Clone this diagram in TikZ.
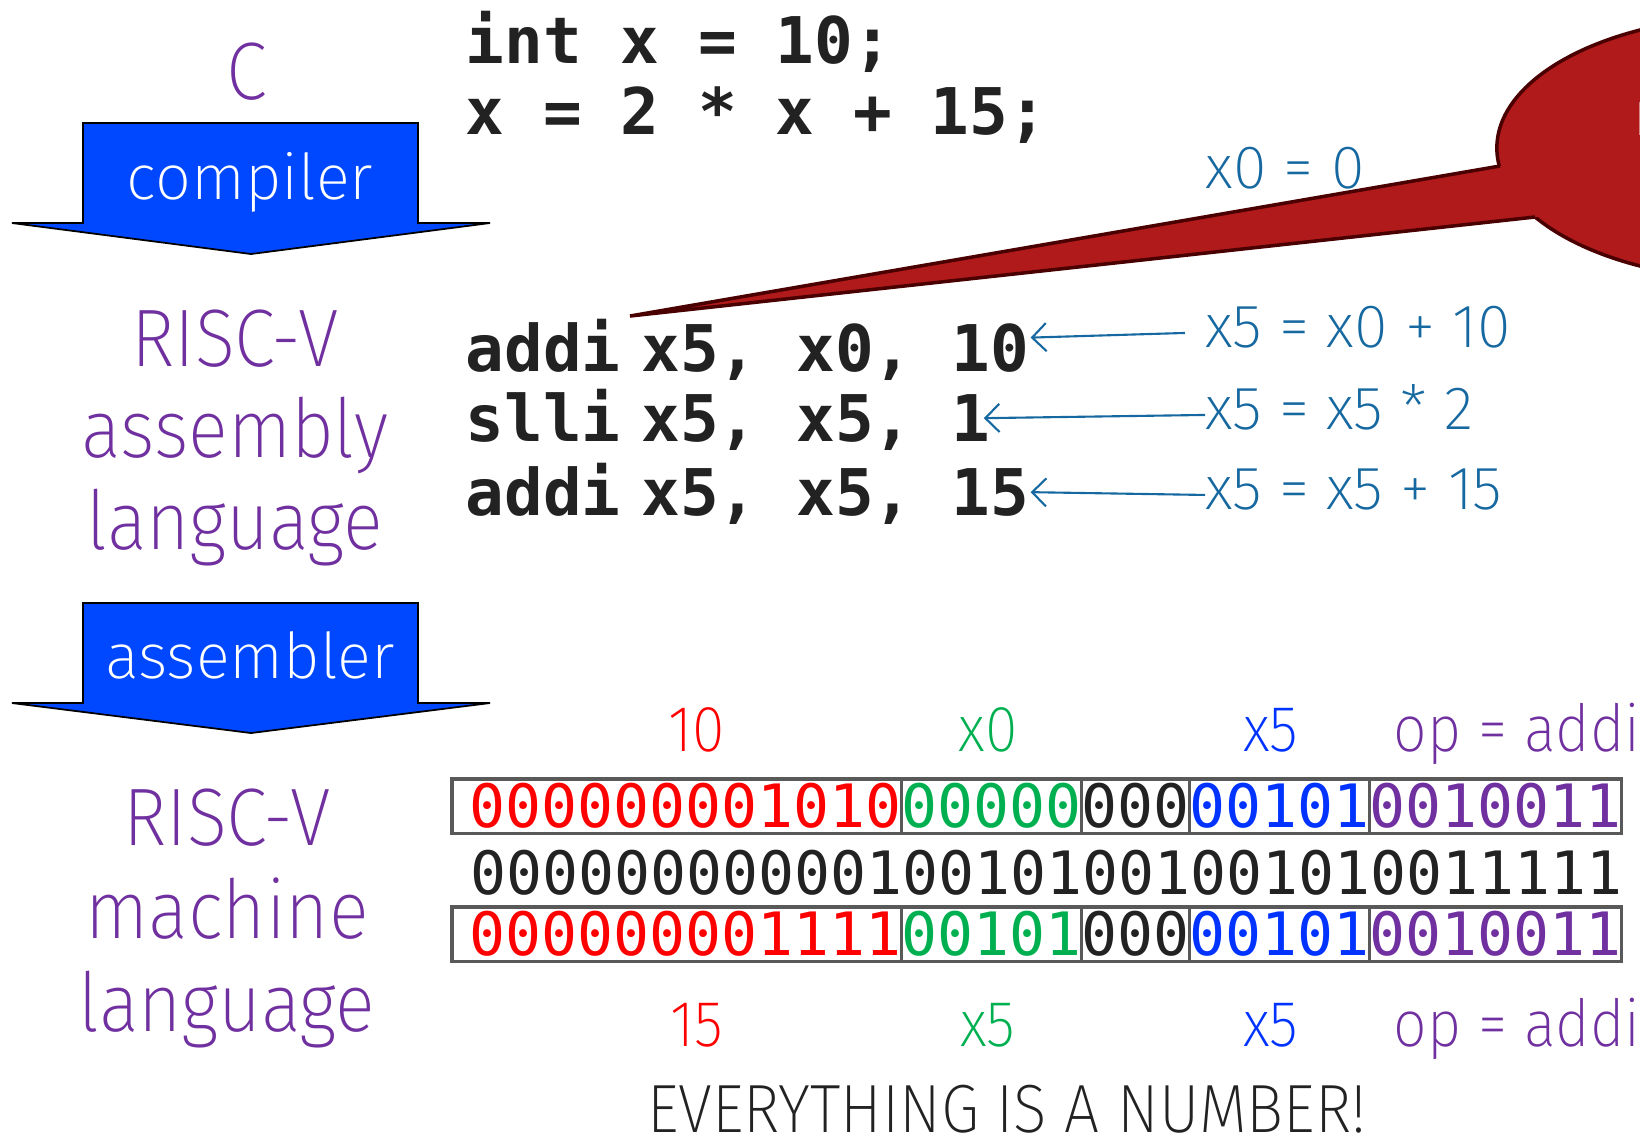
\documentclass[tikz,border=0pt]{standalone}
\usepackage{fontspec}
\newfontfamily\thinsans{Fira Sans ExtraLight}[FakeStretch=0.91]
\newfontfamily\notesans{Fira Sans ExtraLight}
\newfontfamily\codefont{DejaVu Sans Mono}
\usetikzlibrary{arrows.meta,positioning}

\definecolor{langPurple}{RGB}{112,48,160}
\definecolor{arrowBlue}{RGB}{0,72,255}
\definecolor{noteBlue}{RGB}{22,104,160}
\definecolor{codeGray}{RGB}{34,34,34}
\definecolor{boxGray}{RGB}{89,89,89}
\definecolor{bitRed}{RGB}{255,0,0}
\definecolor{bitGreen}{RGB}{0,176,80}
\definecolor{bitBlue}{RGB}{0,51,255}
\definecolor{bubbleRed}{RGB}{176,26,26}
\definecolor{bubbleEdge}{RGB}{74,0,0}

\begin{document}
\begin{tikzpicture}[
      x=0.01cm, y=-0.01cm,
      lang/.style={font=\thinsans\fontsize{23.2pt}{27pt}\selectfont, text=langPurple, inner sep=0},
      stage/.style={font=\notesans\fontsize{18pt}{22pt}\selectfont, text=white, inner sep=0},
      code/.style={font=\codefont\bfseries\fontsize{18.3pt}{22pt}\selectfont, text=codeGray,
        inner sep=0, text height=13pt, text depth=0pt},
      note/.style={font=\notesans\fontsize{17.4pt}{21pt}\selectfont, text=noteBlue,
        inner sep=0, text height=8pt, text depth=0pt},
      ptr/.style={draw=noteBlue, line width=0.6pt, -{Straight Barb[length=4pt,width=8pt]}},
      bits/.style={font=\codefont\fontsize{17pt}{20pt}\selectfont, inner sep=0,
        text height=12.4pt, text depth=0pt},
      field/.style={bits, draw=boxGray, line width=0.9pt, outer sep=0pt, minimum height=15.4pt},
      tag/.style={font=\thinsans\fontsize{18.5pt}{22pt}\selectfont, inner sep=0},
      blockarrow/.style={fill=arrowBlue, draw=black, line width=0.5pt},
      bubble/.style={fill=bubbleRed},
      bubbleline/.style={draw=bubbleEdge, line width=1pt}
    ]
      \useasboundingbox (0,0) rectangle (1640,1138);
      \clip (0,0) rectangle (1640,1138);

      % speech bubble
      \coordinate (tip) at (630,316);
      \filldraw[bubble, bubbleline] (1757,148) ellipse [x radius=2.6cm, y radius=1.32cm];
      \fill[bubble] (tip) -- (1500,166) -- (1620,170) -- (1620,215) -- (1535,217) -- cycle;
      \draw[bubbleline] (1500,166) -- (tip) -- (1535,217);
      \node[font=\notesans\fontsize{13.7pt}{16pt}\selectfont, text=white, inner sep=0,
        anchor=base west] (said) at (1634,135) {H};

      % levels
      \node[lang, anchor=base] (cLang) at (247,99) {C};
      \node[lang, anchor=base] (asmLang1) at (235,366) {RISC-V};
      \node[lang, anchor=base] (asmLang2) at (235,457) {assembly};
      \node[lang, anchor=base] (asmLang3) at (235,549) {language};
      \node[lang, anchor=base] (binLang1) at (227,845) {RISC-V};
      \node[lang, anchor=base] (binLang2) at (227,938) {machine};
      \node[lang, anchor=base] (binLang3) at (227,1031) {language};

      % translators
      \draw[blockarrow] (83,123) -- (418,123) -- (418,223) -- (490,223) -- (251,254)
        -- (12,223) -- (83,223) -- cycle;
      \node[stage, anchor=base] (compiler) at (250,199) {compiler};
      \draw[blockarrow] (83,603) -- (418,603) -- (418,703) -- (490,703) -- (251,733)
        -- (12,703) -- (83,703) -- cycle;
      \node[stage, anchor=base] (assembler) at (250,678) {assembler};

      % C code
      \node[code, anchor=base west] (cLine1) at (465,63) {int x = 10;};
      \node[code, anchor=base west] (cLine2) at (465,134) {x = 2 * x + 15;};

      % assembly
      \node[code, anchor=base west] (asm1) at (465,371) {addi\hspace{5.9pt}x5, x0, 10};
      \node[code, anchor=base west] (asm2) at (465,441) {slli\hspace{5.9pt}x5, x5, 1};
      \node[code, anchor=base west] (asm3) at (465,515) {addi\hspace{5.9pt}x5, x5, 15};

      \node[note, anchor=base west] (zero) at (1205,188) {x0 = 0};
      \node[note, anchor=base west] (n1) at (1205,347) {x5 = x0 + 10};
      \node[note, anchor=base west] (n2) at (1205,429) {x5 = x5 * 2};
      \node[note, anchor=base west] (n3) at (1205,509) {x5 = x5 + 15};

      \draw[ptr] ([xshift=-5.7pt]n1.west) -- ([xshift=0.3pt,yshift=3pt]asm1.east);
      \draw[ptr] (n2.west) -- ([xshift=-2pt]asm2.east);
      \draw[ptr] (n3.west) -- ([xshift=0.3pt]asm3.east);

      % machine code
      \node[field, anchor=west, text=bitRed] (imm1) at (452,806) {\hspace{5.1pt}000000001010};
      \node[field, right=0pt of imm1, text=bitGreen] (rs1) {00000};
      \node[field, right=0pt of rs1, text=codeGray] (fn1) {000};
      \node[field, right=0pt of fn1, text=bitBlue] (rd1) {00101};
      \node[field, right=0pt of rd1, text=langPurple] (op1) {0010011};

      \node[bits, anchor=base west, text=codeGray] (word2) at (470,894)
        {00000000000100101001001010011111};

      \node[field, anchor=west, text=bitRed] (imm3) at (452,934) {\hspace{5.1pt}000000001111};
      \node[field, right=0pt of imm3, text=bitGreen] (rs3) {00101};
      \node[field, right=0pt of rs3, text=codeGray] (fn3) {000};
      \node[field, right=0pt of fn3, text=bitBlue] (rd3) {00101};
      \node[field, right=0pt of rd3, text=langPurple] (op3) {0010011};

      \node[tag, anchor=base, text=bitRed] (immTag1) at (697,751) {10};
      \node[tag, anchor=base, text=bitGreen] (rsTag1) at (988,751) {x0};
      \node[tag, anchor=base, text=bitBlue] (rdTag1) at (1271,751) {x5};
      \node[tag, anchor=base west, text=langPurple] (opTag1) at (1393,751) {op = addi};

      \node[tag, anchor=base, text=bitRed] (immTag3) at (697,1046) {15};
      \node[tag, anchor=base, text=bitGreen] (rsTag3) at (988,1046) {x5};
      \node[tag, anchor=base, text=bitBlue] (rdTag3) at (1271,1046) {x5};
      \node[tag, anchor=base west, text=langPurple] (opTag3) at (1393,1046) {op = addi};

      \node[font=\thinsans\fontsize{19.4pt}{23pt}\selectfont, text=codeGray, inner sep=0,
        anchor=base] (motto) at (1007,1132) {EVERYTHING IS A NUMBER!};
    \end{tikzpicture}
\end{document}
